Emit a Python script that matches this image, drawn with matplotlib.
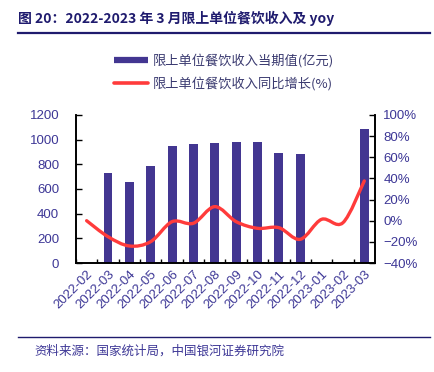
import matplotlib
matplotlib.use('Agg')
import matplotlib.pyplot as plt
from matplotlib.path import Path
from matplotlib.patches import PathPatch
from matplotlib.lines import Line2D
import numpy as np

plt.rcParams['font.family'] = ['Liberation Sans', 'Noto Sans CJK SC', 'DejaVu Sans']
plt.rcParams['axes.unicode_minus'] = True

months = ['2022-02', '2022-03', '2022-04', '2022-05', '2022-06', '2022-07', '2022-08',
          '2022-09', '2022-10', '2022-11', '2022-12', '2023-01', '2023-02', '2023-03']
revenue = [np.nan, 730, 654, 789, 949, 962, 970, 984, 978, 894, 884, np.nan, np.nan, 1084]
yoy = [0.0, -15.1, -23.9, -19.8, -0.9, -2.4, 13.3, -0.9, -7.2, -6.6, -17.6, 1.3, -1.9, 37.6]

bar_label = '限上单位餐饮收入当期值(亿元)'
line_label = '限上单位餐饮收入同比增长(%)'
title = '图 20：2022-2023 年 3 月限上单位餐饮收入及 yoy'
source = '资料来源：国家统计局，中国银河证券研究院'

navy = '#1f1b6e'
bar_c = '#433691'
red = '#ff3b3b'
tick_c = '#3d3796'

fig = plt.figure(figsize=(4.34, 3.72), dpi=100)
ax = fig.add_axes([0.175, 0.293, 0.689, 0.398])
ax2 = ax.twinx()

x = np.arange(len(months))
ax.bar(x, revenue, width=0.42, color=bar_c, zorder=2)
ax.set_xlim(-0.5, len(months) - 0.5)
ax.set_ylim(0, 1200)
ax.set_yticks(range(0, 1201, 200))

# smoothed line (Excel style) drawn from the data points
pts = np.column_stack([x, yoy])
verts = [pts[0]]
codes = [Path.MOVETO]
n = len(pts)
for i in range(n - 1):
    p0 = pts[i - 1] if i > 0 else pts[i]
    p1, p2 = pts[i], pts[i + 1]
    p3 = pts[i + 2] if i + 2 < n else pts[i + 1]
    verts += [p1 + (p2 - p0) / 6, p2 - (p3 - p1) / 6, p2]
    codes += [Path.CURVE4] * 3
ax2.add_patch(PathPatch(Path(verts, codes), fill=False, edgecolor=red, lw=2.4,
                        capstyle='round', joinstyle='round', zorder=3))
ax2.set_ylim(-40, 100)
ax2.set_yticks(range(-40, 101, 20))
ax2.set_yticklabels([f'{v}%'.replace('-', '\u2212') for v in range(-40, 101, 20)])

ax.set_xticks(x - 0.5, minor=False)
ax.set_xticklabels([])
ax.set_xticks(x, minor=True)
ax.set_xticklabels(months, minor=True, rotation=45, ha='right', va='top',
                   rotation_mode='anchor', fontsize=9.5, color=tick_c)
ax.tick_params(axis='x', which='minor', length=0, pad=4)
ax.tick_params(axis='x', which='major', direction='in', length=3, width=1)
ax.tick_params(axis='y', direction='in', length=4, width=1, labelsize=9.5, labelcolor=tick_c, pad=12)
ax2.tick_params(axis='y', direction='in', length=4, width=1, labelsize=9.5, labelcolor=tick_c, pad=6)

for a in (ax, ax2):
    a.spines['top'].set_visible(False)
    for s in ('left', 'right', 'bottom'):
        a.spines[s].set_linewidth(1.2)
        a.spines[s].set_color('black')
ax.patch.set_visible(False)

handles = [Line2D([], [], color=bar_c, lw=4.5, solid_capstyle='butt'),
           Line2D([], [], color=red, lw=2.6, solid_capstyle='round')]
fig.legend(handles, [bar_label, line_label], loc='upper left',
           bbox_to_anchor=(0.235, 0.887), frameon=False, handlelength=2.6,
           handletextpad=0.35, labelspacing=0.65, prop={'family': 'Noto Sans CJK SC', 'size': 9.5},
           labelcolor='#3a3a70')

fig.text(0.041, 0.951, title, fontsize=10, fontweight='bold', color=navy,
         family=['Noto Sans CJK SC', 'DejaVu Sans'], va='center', ha='left')
fig.add_artist(Line2D([0.041, 0.991], [0.910, 0.910], color=navy, lw=1.6))
fig.add_artist(Line2D([0.041, 0.991], [0.094, 0.094], color=navy, lw=1.0))
fig.text(0.08, 0.057, source, fontsize=9, style='italic', color=tick_c,
         family=['Noto Sans CJK SC', 'DejaVu Sans'], va='center', ha='left')

fig.savefig('out.png', dpi=100)
